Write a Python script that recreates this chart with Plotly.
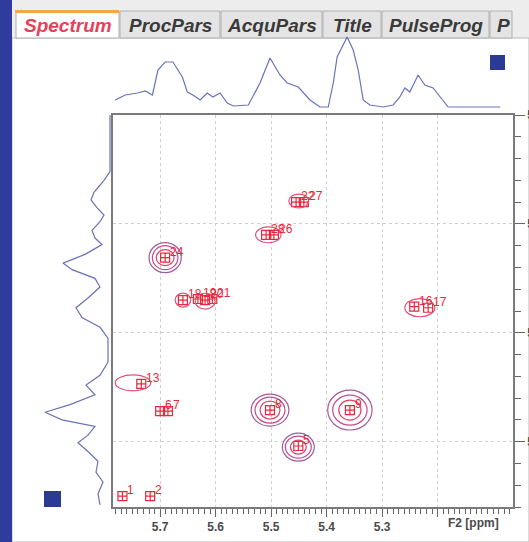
import plotly.graph_objects as go

W, H = 529, 542
def px(x): return x / W
def py(y): return 1 - y / H

# ---------------- data ----------------
peak_ids = [1, 2, 5, 6, 7, 8, 9, 13, 16, 17, 18, 19, 20, 21, 22, 24, 26, 27, 28]
peak_f2 = [5.768, 5.718, 5.451, 5.700, 5.686, 5.502, 5.358, 5.734, 5.242, 5.217,
           5.659, 5.632, 5.619, 5.606, 5.455, 5.691, 5.495, 5.441, 5.509]
peak_f1 = [5.650, 5.650, 5.604, 5.572, 5.572, 5.571, 5.571, 5.547, 5.476, 5.477,
           5.470, 5.469, 5.470, 5.469, 5.380, 5.431, 5.410, 5.380, 5.410]

# contour rings: centre (F2, F1) and half-widths (ppm) per level
cont_f2 = [5.691, 5.502, 5.358, 5.451, 5.749, 5.450, 5.505, 5.659, 5.619, 5.232]
cont_f1 = [5.431, 5.571, 5.571, 5.605, 5.546, 5.379, 5.410, 5.470, 5.471, 5.477]
cont_wx = [[0.016, 0.023, 0.029], [0.018, 0.027, 0.034], [0.020, 0.031, 0.040],
           [0.0144, 0.0234, 0.0288], [0.032], [0.018], [0.023], [0.014], [0.018], [0.027]]
cont_wy = [[0.0073, 0.011, 0.0138], [0.0083, 0.0119, 0.0147], [0.0092, 0.0138, 0.0183],
           [0.0064, 0.0101, 0.0128], [0.0073], [0.0064], [0.0073], [0.0064], [0.0073], [0.0083]]

# F2 projection (top)
top_f2 = [5.781, 5.763, 5.741, 5.727, 5.714, 5.704, 5.691, 5.677, 5.660, 5.651, 5.641,
          5.628, 5.615, 5.605, 5.592, 5.579, 5.568, 5.541, 5.520, 5.502, 5.484, 5.471,
          5.451, 5.430, 5.412, 5.397, 5.388, 5.381, 5.363, 5.352, 5.343, 5.334, 5.322,
          5.298, 5.280, 5.268, 5.259, 5.250, 5.235, 5.223, 5.208, 5.181, 5.087]
top_int = [7, 12, 14, 16, 12, 37, 45, 45, 30, 15, 12,
           7, 14, 10, 14, 4, 1, 2, 24, 49, 32, 24,
           20, 7, 0, 0, 24, 50, 70, 57, 37, 7, 2,
           0, 2, 10, 19, 15, 32, 22, 19, 0, 0]

# F1 projection (left)
left_f1 = [5.300, 5.352, 5.360, 5.371, 5.378, 5.385, 5.392, 5.398, 5.406, 5.413, 5.419,
           5.428, 5.436, 5.442, 5.450, 5.458, 5.468, 5.477, 5.486, 5.495, 5.505, 5.527,
           5.539, 5.548, 5.557, 5.566, 5.573, 5.580, 5.586, 5.594, 5.601, 5.609, 5.618,
           5.628, 5.637, 5.648, 5.658]
left_int = [0, 0, 6, 16, 19, 13, 6, 10, 18, 15, 8,
            25, 47, 38, 15, 10, 22, 34, 28, 10, 2, 2,
            10, 24, 15, 40, 65, 48, 15, 22, 32, 22, 12,
            14, 7, 12, 10]

x_ticks = [5.7, 5.6, 5.5, 5.4, 5.3, 5.2]
x_ticktext = ["5.7", "5.6", "5.5", "5.4", "5.3", ""]
y_ticks = [5.3, 5.4, 5.5, 5.6]
tabs = ["Spectrum", "ProcPars", "AcquPars", "Title", "PulseProg", "P"]

# ---------------- figure ----------------
fig = go.Figure()
shapes = []
annotations = []

# background pieces
shapes.append(dict(type="rect", xref="paper", yref="paper", x0=0, x1=1, y0=py(38), y1=1,
                   fillcolor="#ededed", line=dict(width=0), layer="below"))
shapes.append(dict(type="rect", xref="paper", yref="paper", x0=px(12), x1=1, y0=0, y1=py(38),
                   fillcolor="#ffffff", line=dict(color="#b8b8b8", width=1), layer="below"))

tab_x = [(16, 119), (120, 220), (221, 322), (323, 381), (382, 489), (490, 512)]
for i, (a, b) in enumerate(tab_x):
    active = i == 0
    shapes.append(dict(type="rect", xref="paper", yref="paper", x0=px(a), x1=px(b),
                       y0=py(38), y1=py(11),
                       fillcolor="#ffffff" if active else "#e4e4e4",
                       line=dict(color="#b0b0b0", width=1), layer="below"))
    annotations.append(dict(x=px((a + b) / 2 + (2 if i == 5 else 0)), y=py(25), xref="paper", yref="paper",
                            text=tabs[i], showarrow=False, xanchor="center", yanchor="middle",
                            font=dict(family="Liberation Sans", size=19, weight="bold", style="italic",
                                      color="#e8405a" if active else "#3a3a3a")))
shapes.append(dict(type="rect", xref="paper", yref="paper", x0=px(15), x1=px(119), y0=py(13), y1=py(10),
                   fillcolor="#f0a84a", line=dict(width=0)))
# left blue bar
shapes.append(dict(type="rect", xref="paper", yref="paper", x0=0, x1=px(12), y0=0, y1=1,
                   fillcolor="#2f3c9e", line=dict(width=0)))
# small blue squares
shapes.append(dict(type="rect", xref="paper", yref="paper", x0=px(490), x1=px(505), y0=py(70), y1=py(55),
                   fillcolor="#2b3a93", line=dict(width=0)))
shapes.append(dict(type="rect", xref="paper", yref="paper", x0=px(44), x1=px(61), y0=py(507), y1=py(491),
                   fillcolor="#2b3a93", line=dict(width=0)))

# contours
ring_cols = ["#e0406a", "#c34a8c", "#a45a9c"]
for cx, cy, wxs, wys in zip(cont_f2, cont_f1, cont_wx, cont_wy):
    n = len(wxs)
    for k, (wx, wy) in enumerate(zip(wxs, wys)):
        col = ring_cols[k] if n > 1 else "#e0507a"
        shapes.append(dict(type="circle", xref="x", yref="y", x0=cx - wx, x1=cx + wx,
                           y0=cy - wy, y1=cy + wy, line=dict(color=col, width=1.2), layer="above"))

fig.add_trace(go.Scatter(x=peak_f2, y=peak_f1, mode="markers",
                         marker=dict(symbol="square-cross-open", size=9, color="#e8283c",
                                     line=dict(width=1.2, color="#e8283c")),
                         xaxis="x", yaxis="y", showlegend=False, cliponaxis=False))
for pid, f2, f1 in zip(peak_ids, peak_f2, peak_f1):
    annotations.append(dict(x=f2, y=f1, xref="x", yref="y", text=str(pid), showarrow=False,
                            xanchor="left", yanchor="bottom", xshift=3, yshift=-3,
                            font=dict(color="#e8283c", size=12, family="Liberation Sans")))

fig.add_trace(go.Scatter(x=top_f2, y=top_int, mode="lines", line=dict(color="#6a72ba", width=1.2),
                         xaxis="x2", yaxis="y2", showlegend=False))
fig.add_trace(go.Scatter(x=left_int, y=left_f1, mode="lines", line=dict(color="#6a72ba", width=1.2),
                         xaxis="x3", yaxis="y3", showlegend=False))

annotations.append(dict(x=px(473), y=py(523), xref="paper", yref="paper", text="F2 [ppm]",
                        showarrow=False, xanchor="center", yanchor="middle",
                        font=dict(family="Liberation Sans", size=12, weight="bold", color="#4a4a4a")))

xdom = [px(113), px(513)]
ydom = [py(507), py(115)]
xr = [5.785, 5.064]
yr = [5.66, 5.30]
tickfont = dict(family="Liberation Sans", size=12, weight="bold", color="#4a4a4a")

fig.update_layout(
    width=W, height=H, margin=dict(l=0, r=0, t=0, b=0, autoexpand=False),
    paper_bgcolor="#fbfbfb", plot_bgcolor="#ffffff",
    shapes=shapes, annotations=annotations,
    xaxis=dict(domain=xdom, range=xr, anchor="y", tickmode="array", tickvals=x_ticks, ticktext=x_ticktext,
               ticks="outside", ticklen=8, tickcolor="#666", tickwidth=1.2, tickfont=tickfont,
               showline=True, mirror=True, linecolor="#7a7a7a", linewidth=1.5, automargin=False,
               showgrid=True, gridcolor="#cfcfcf", griddash="dot", zeroline=False,
               minor=dict(tick0=5.0, dtick=0.01, ticks="outside", ticklen=5, tickcolor="#666", showgrid=False)),
    yaxis=dict(domain=ydom, range=yr, anchor="x", side="right", tickmode="array", tickvals=y_ticks,
               ticks="outside", ticklen=10, tickcolor="#666", tickwidth=1.2, tickfont=tickfont,
               showline=True, mirror=True, linecolor="#7a7a7a", linewidth=1.5, automargin=False,
               showgrid=True, gridcolor="#cfcfcf", griddash="dot", zeroline=False,
               minor=dict(tick0=5.0, dtick=0.02, ticks="outside", ticklen=6, tickcolor="#666", showgrid=False)),
    xaxis2=dict(domain=xdom, range=xr, anchor="y2", visible=False),
    yaxis2=dict(domain=[py(110), py(35)], range=[-3, 72], anchor="x2", visible=False),
    xaxis3=dict(domain=[px(35), px(113)], range=[75, -3], anchor="y3", visible=False),
    yaxis3=dict(domain=ydom, range=yr, anchor="x3", visible=False),
)

fig.write_html("out.html")
